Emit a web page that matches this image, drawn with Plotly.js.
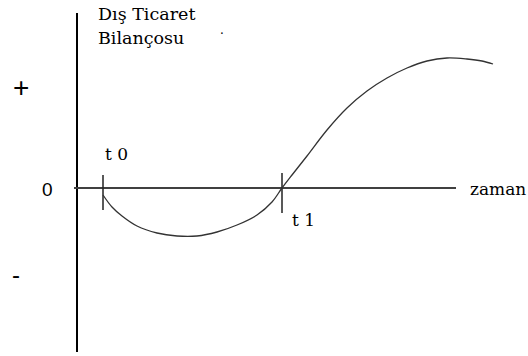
<!DOCTYPE html>
<html>
<head>
<meta charset="utf-8">
<script src="https://cdn.plot.ly/plotly-3.0.1.min.js"></script>
<style>html,body{margin:0;padding:0;background:#fff;}#chart{width:528px;height:356px;}</style>
</head>
<body>
<div id="chart"></div>
<script>
// J-curve: time (x) vs trade balance (y), arbitrary units
var curveTime    = [26, 35, 45, 60, 80, 100, 120, 140, 160, 180, 195, 205, 215, 230, 250, 270, 290, 310, 330, 350, 370, 390, 405, 416];
var curveBalance = [-7, -19, -28, -38, -45, -48, -48, -44, -37, -27, -14, 0, 13, 32, 58, 80, 97, 110, 120, 127, 130, 129, 127, 124];

var tickTimes  = [26, 205];          // t0, t1
var tickLabels = ['t 0', 't 1'];
var signLabels = ['+', '0', '-'];
var signValues = [101, -1, -86];
var yTitleLines = ['Dış Ticaret', 'Bilançosu'];
var xTitle = 'zaman';

var serif = 'DejaVu Serif';
var sans = 'Liberation Sans';

var traces = [
  {x: [-3, 379], y: [0, 0], mode: 'lines', line: {color: '#404040', width: 2}, hoverinfo: 'skip'},
  {x: [tickTimes[0], tickTimes[0]], y: [13, -22], mode: 'lines', line: {color: '#222', width: 1.5}, hoverinfo: 'skip'},
  {x: [tickTimes[1], tickTimes[1]], y: [15, -25], mode: 'lines', line: {color: '#222', width: 1.5}, hoverinfo: 'skip'},
  {x: curveTime, y: curveBalance, mode: 'lines', line: {color: '#333', width: 1.3, shape: 'spline', smoothing: 1}, hoverinfo: 'skip'}
];

var ann = [];
function add(text, x, y, xa, font) {
  ann.push({text: text, x: x, y: y, xref: 'x', yref: 'y', xanchor: xa, yanchor: 'middle', showarrow: false, font: font});
}
add(yTitleLines[0], 19, 174, 'left', {family: serif, size: 17.5, color: '#000'});
add(yTitleLines[1], 19, 150, 'left', {family: serif, size: 17.5, color: '#000'});
add(signLabels[0], -56, signValues[0], 'center', {family: sans, size: 28, color: '#000'});
add(signLabels[1], -30, signValues[1], 'center', {family: sans, size: 19, color: '#000'});
add(signLabels[2], -61, signValues[2], 'center', {family: sans, size: 24, color: '#000'});
add(tickLabels[0], 26, 34, 'left', {family: serif, size: 17, color: '#000'});
add(tickLabels[1], 213, -32, 'left', {family: serif, size: 17, color: '#000'});
add(xTitle, 391, -1, 'left', {family: serif, size: 17, color: '#000'});
add('.', 145, 158, 'center', {family: serif, size: 12, color: '#000'});

var layout = {
  width: 528, height: 356,
  margin: {l: 0, r: 0, t: 13, b: 4},
  paper_bgcolor: '#fff', plot_bgcolor: '#fff',
  showlegend: false,
  xaxis: {range: [-77, 451], showgrid: false, showticklabels: false, ticks: '', zeroline: true, zerolinecolor: '#000', zerolinewidth: 2, fixedrange: true},
  yaxis: {range: [-164, 175], showgrid: false, showticklabels: false, ticks: '', zeroline: false, fixedrange: true},
  annotations: ann
};

Plotly.newPlot('chart', traces, layout, {staticPlot: true});
</script>
</body>
</html>
